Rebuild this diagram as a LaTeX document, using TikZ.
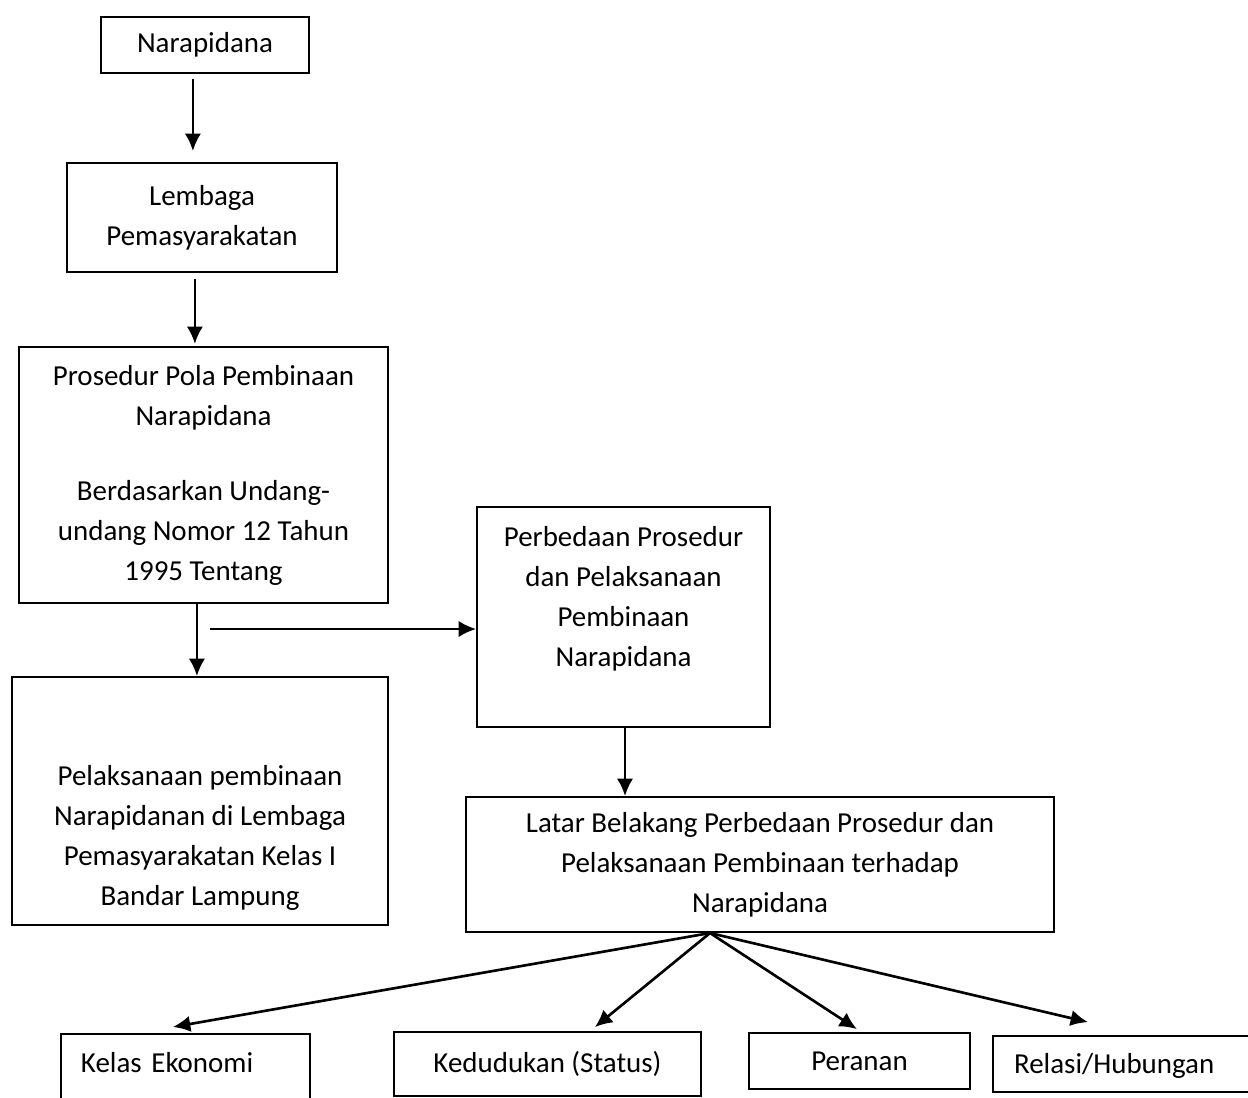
\documentclass[tikz,border=0pt]{standalone}
\usepackage{fontspec}
\setmainfont{Carlito}
\usepackage{tikz}
\usetikzlibrary{calc}
\usetikzlibrary{arrows.meta}
\usetikzlibrary{positioning}
\tikzset{>={Latex[length=6.6pt,width=6.2pt]}}
\tikzstyle{box} = [rectangle, draw=black, line width=0.75pt, inner sep=0pt, align=center, font=\fontsize{11pt}{15.2pt}\selectfont]
\tikzstyle{arr} = [->, line width=1pt, draw=black]

\begin{document}
\begin{tikzpicture}[x=0.38pt, y=-0.38pt]
\useasboundingbox (0,0) rectangle (1248,1097);
\clip (0,0) rectangle (1248,1097);
% left column
\node [box, minimum width=79pt, minimum height=21.3pt] (nara) at (205, 45) {Narapidana};
\node [box, minimum width=102.6pt, minimum height=41.4pt] (lemb) at (202, 217.5) {Lembaga\\Pemasyarakatan};
\node [box, minimum width=140.2pt, minimum height=97.3pt] (pros) at (203.5, 475) {Prosedur Pola Pembinaan\\Narapidana\\[13.3pt]Berdasarkan Undang-\\undang Nomor 12 Tahun\\1995 Tentang};
\node [box, minimum width=142.9pt, minimum height=94.2pt] (pelak) at (200, 801) {\rule{0pt}{35.4pt}Pelaksanaan pembinaan\\Narapidanan di Lembaga\\Pemasyarakatan Kelas I\\Bandar Lampung};
% right column
\node [box, minimum width=111.3pt, minimum height=83.6pt] (perb) at (623.5, 617) {Perbedaan Prosedur\\dan Pelaksanaan\\Pembinaan\\Narapidana\rule[-16pt]{0pt}{16pt}};
\node [box, minimum width=223.4pt, minimum height=51.3pt] (latar) at (760, 864.5) {Latar Belakang Perbedaan Prosedur dan\\Pelaksanaan Pembinaan terhadap\\Narapidana};
% bottom row
\node [box, anchor=north west, text width=79.4pt, align=left, inner xsep=7.6pt, text height=14.8pt, text depth=20pt] (kelas) at (60, 1033) {\mbox{Kelas Ekonomi}};
\node [box, minimum width=116.7pt, minimum height=24.3pt] (kedu) at (547.5, 1064) {Kedudukan (Status)};
\node [box, minimum width=84pt, minimum height=21.3pt] (peran) at (859.5, 1061) {Peranan};
\node [box, anchor=north west, text width=98pt, align=left, inner xsep=8pt, text height=14.1pt, text depth=7.2pt] (relasi) at (992, 1035) {\mbox{Relasi/Hubungan}};
\coordinate (split) at (210, 629);
\coordinate (fan) at (710, 933);

\draw [arr, shorten <=1.9pt, shorten >=4.2pt] ([xshift=-4.6pt]nara.south) to ([xshift=-4.6pt]nara.south |- lemb.north);
\draw [arr, shorten <=2.3pt, shorten >=0.8pt] ([xshift=-2.7pt]lemb.south) to ([xshift=-2.7pt]lemb.south |- pros.north);
\draw [arr] ([xshift=-2.5pt]pros.south) to ([xshift=-2.5pt]pros.south |- pelak.north);
\draw [arr] (split) to (split -| perb.west);
\draw [arr] (perb.south -| 625,0) to (latar.north -| 625,0);
\draw [arr] (fan) to ([xshift=-4.75pt, yshift=2.3pt]kelas.north);
\draw [arr] (fan) to ([xshift=18pt, yshift=1.5pt]kedu.north);
\draw [arr] (fan) to ([xshift=-1pt, yshift=1.1pt]peran.north);
\draw [arr] (fan) to ([xshift=-20.9pt, yshift=4.9pt]relasi.north);
\end{tikzpicture}
\end{document}
